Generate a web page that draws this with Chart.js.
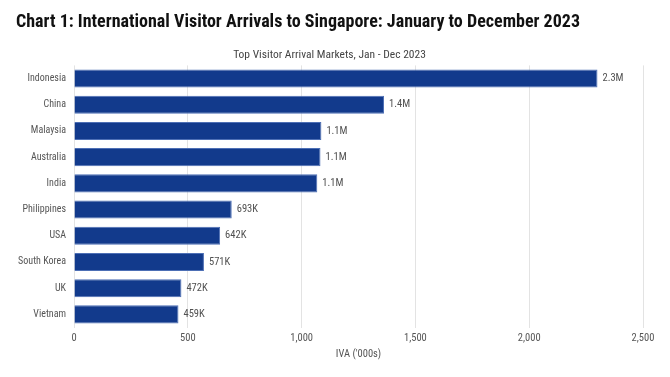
<!DOCTYPE html>
<html>
<head>
<meta charset="utf-8">
<script src="https://cdn.jsdelivr.net/npm/chart.js@4"></script>
<style>
  body { margin: 0; background: #fff; }
  #wrap { width: 670px; height: 377px; position: relative; }
</style>
</head>
<body>
<div id="wrap"><canvas id="arrivalsChart"></canvas></div>
<script>
// Visitor arrivals in thousands, Jan - Dec 2023
const markets = ["Indonesia", "China", "Malaysia", "Australia", "India", "Philippines", "USA", "South Korea", "UK", "Vietnam"];
const arrivals = [2300, 1362, 1087, 1083, 1069, 693, 642, 571, 472, 459];
const xTicks = [0, 500, 1000, 1500, 2000, 2500];

const FONT = "'Roboto Condensed', Roboto, sans-serif";

function shortLabel(v) {
  if (v >= 1000) return (v / 1000).toFixed(1) + "M";
  return Math.round(v) + "K";
}

// draw the value next to the end of each bar
const barValues = {
  id: "barValues",
  afterDatasetsDraw(chart) {
    const ctx = chart.ctx;
    ctx.save();
    ctx.font = "400 10.5px " + FONT;
    ctx.fillStyle = "#505050";
    ctx.textBaseline = "middle";
    chart.getDatasetMeta(0).data.forEach((bar, i) => {
      ctx.fillText(shortLabel(arrivals[i]), bar.x + 5, bar.y);
    });
    ctx.restore();
  },
};

const ctx = document.getElementById("arrivalsChart").getContext("2d");
new Chart(ctx, {
  type: "bar",
  data: {
    labels: markets,
    datasets: [
      {
        data: arrivals,
        backgroundColor: "#123a8c",
        borderColor: "#4d6fb5",
        borderWidth: 1,
        barPercentage: 0.69,
        categoryPercentage: 1,
      },
    ],
  },
  options: {
    indexAxis: "y",
    responsive: true,
    maintainAspectRatio: false,
    animation: false,
    layout: { padding: { left: 16, right: 27, bottom: 16 } },
    plugins: {
      legend: { display: false },
      tooltip: { enabled: false },
      title: {
        display: true,
        text: "Chart 1: International Visitor Arrivals to Singapore: January to December 2023",
        align: "start",
        color: "#111",
        font: { family: FONT, weight: "bold", size: 18 },
        padding: { top: 12, bottom: 15 },
      },
      subtitle: {
        display: true,
        text: "Top Visitor Arrival Markets, Jan - Dec 2023",
        color: "#444",
        font: { family: FONT, weight: "400", size: 11.5 },
        padding: { top: 0, bottom: 3 },
      },
    },
    scales: {
      x: {
        min: 0,
        max: 2500,
        afterBuildTicks(scale) {
          scale.ticks = xTicks.map((v) => ({ value: v }));
        },
        afterFit(scale) {
          scale.height = 33.5;
        },
        ticks: {
          color: "#555",
          padding: 5,
          font: { family: FONT, size: 10.5 },
          callback: (v) => v.toLocaleString("en-US"),
        },
        grid: { color: "#e3e3e3", drawTicks: false },
        border: { display: false },
        title: {
          display: true,
          text: "IVA ('000s)",
          color: "#555",
          font: { family: FONT, size: 10.5 },
          padding: { top: 0, bottom: 0 },
        },
      },
      y: {
        afterFit(scale) {
          scale.width = 58;
        },
        ticks: {
          color: "#555",
          padding: 8,
          font: { family: FONT, size: 10 },
        },
        grid: { display: false, drawTicks: false },
        border: { display: false },
      },
    },
  },
  plugins: [barValues],
});
</script>
</body>
</html>
